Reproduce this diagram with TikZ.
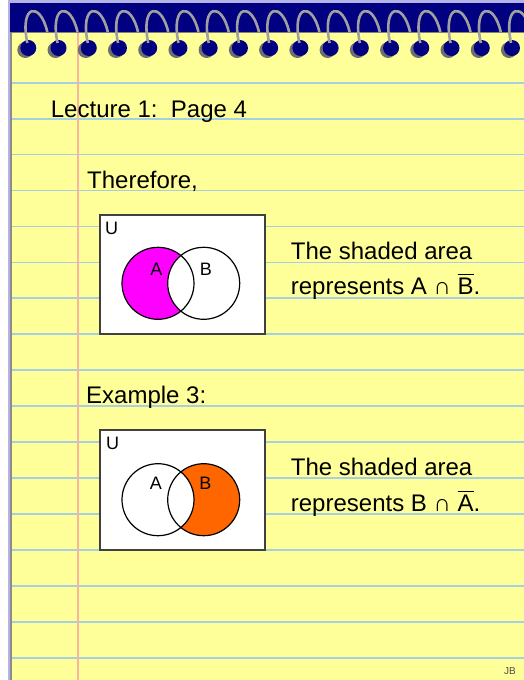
\documentclass[tikz,border=0pt]{standalone}
\usepackage{fontspec}
\setmainfont{Liberation Sans}
\definecolor{navy}{HTML}{000080}
\definecolor{paper}{HTML}{FFFF99}
\definecolor{ruleblue}{HTML}{A6CFE2}
\definecolor{marginred}{HTML}{F7B5A3}
\definecolor{lav}{HTML}{B3B3E6}
\definecolor{coil}{HTML}{A0A0A0}
\definecolor{ringshadow}{HTML}{6E6E6E}
\definecolor{orng}{HTML}{FF6600}
\definecolor{mag}{HTML}{FF00FF}
\newcommand\ovbar[1]{\leavevmode\vbox{\hrule height 1.4pt\kern 2.2pt\hbox{#1}}}
\begin{document}
\begin{tikzpicture}[x=1pt,y=-1pt,
  txt/.style={anchor=base west,inner sep=0pt,font=\fontsize{24}{28}\selectfont},
  small/.style={inner sep=0pt,font=\fontsize{18}{20}\selectfont},
  vbox/.style={draw=black!75,line width=1.5pt,fill=white,inner sep=0pt,anchor=north west},
  vring/.style={line width=1.2pt,draw=black},
  coilline/.style={draw=coil,line width=2.6pt}]
\useasboundingbox (0,0) rectangle (524,680);
\fill[white] (0,0) rectangle (524,680);
\fill[paper] (11,32) rectangle (524,680);
\foreach \k in {0,...,16}
  \draw[ruleblue,line width=1.8pt] (11,{82.7+35.94*\k}) -- (524,{82.7+35.94*\k});
\draw[marginred,line width=2.2pt] (78,32) -- (78,680);
\fill[navy] (10,3) rectangle (524,32);
\fill[lav] (8,0) rectangle (524,3);
\fill[lav] (8,0) rectangle (10,680);
\fill[ringshadow!80] (10,32) rectangle (11.5,680);
\draw[gray,line width=0.8pt] (10,32.4) -- (524,32.4);
\foreach \i in {0,...,16}{
  \pgfmathsetmacro\x{28.3+30.23*\i}
  \fill[ringshadow] (\x-3,50) circle[radius=8];
  \fill[navy] (\x,48) circle[radius=8];
  \draw[coilline] (\x-1,43) .. controls (\x-9,4) and (\x+12,1) .. (\x+19,32);
}
% texts
\node[txt] (title) at (50.7,117) {Lecture 1:\ \ Page 4};
\node[txt] (therefore) at (87,188) {Therefore,};
% box 1
\node[vbox,minimum width=164.7pt,minimum height=119.3pt] (box1) at (99.3,214) {};
\fill[mag] (158,283.3) circle[radius=36];
\fill[white] (203.7,283.3) circle[radius=36];
\draw[vring] (158,283.3) circle[radius=36];
\draw[vring] (203.7,283.3) circle[radius=36];
\node[small,anchor=north west] (u1) at (105,221.7) {U};
\node[small] (a1) at (156.3,269) {A};
\node[small] (b1) at (205.8,269) {B};
\node[txt] (s1) at (290.7,259.3) {The shaded area};
\node[txt] (r1) at (290.7,294) {represents A ∩ \ovbar{B}.};
% example 3
\node[txt] (example) at (86,403) {Example 3:};
\node[vbox,minimum width=164.7pt,minimum height=120pt] (box2) at (99.3,429.3) {};
\fill[orng] (203.7,499.7) circle[radius=36];
\fill[white] (158,499.7) circle[radius=36];
\draw[vring] (158,499.7) circle[radius=36];
\draw[vring] (203.7,499.7) circle[radius=36];
\node[small,anchor=north west] (u2) at (106,436.7) {U};
\node[small] (a2) at (155.8,483.7) {A};
\node[small] (b2) at (205.3,483.7) {B};
\node[txt] (s2) at (290.7,475.3) {The shaded area};
\node[txt] (r2) at (290.7,511) {represents B ∩ \ovbar{A}.};
\node[inner sep=0pt,anchor=base east,font=\fontsize{10}{12}\selectfont,text=black!70] (jb) at (516,674) {JB};
\end{tikzpicture}
\end{document}
